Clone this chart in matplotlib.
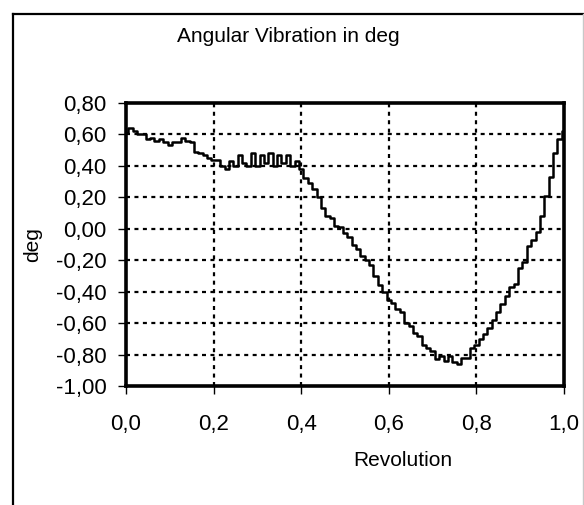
import matplotlib
matplotlib.use("Agg")
import matplotlib.pyplot as plt
from matplotlib.lines import Line2D

# ---- data ----
revolution = [i / 100 for i in range(101)]
angle_deg = [
    0.61, 0.64, 0.62, 0.60, 0.60, 0.57, 0.58, 0.56, 0.57, 0.55,
    0.53, 0.55, 0.55, 0.58, 0.56, 0.55, 0.49, 0.48, 0.47, 0.45,
    0.44, 0.44, 0.40, 0.38, 0.43, 0.40, 0.47, 0.42, 0.40, 0.48,
    0.40, 0.47, 0.42, 0.48, 0.40, 0.47, 0.42, 0.47, 0.40, 0.43,
    0.38, 0.32, 0.29, 0.25, 0.20, 0.13, 0.08, 0.07, 0.02, 0.01,
    -0.03, -0.05, -0.10, -0.13, -0.17, -0.20, -0.23, -0.30, -0.36, -0.40,
    -0.45, -0.47, -0.51, -0.53, -0.60, -0.62, -0.66, -0.68, -0.74, -0.76,
    -0.78, -0.83, -0.81, -0.84, -0.81, -0.85, -0.86, -0.82, -0.82, -0.76,
    -0.74, -0.70, -0.67, -0.63, -0.58, -0.53, -0.48, -0.43, -0.37, -0.35,
    -0.25, -0.21, -0.11, -0.07, -0.02, 0.08, 0.21, 0.33, 0.48, 0.57,
    0.62,
]
xticks = [0.0, 0.2, 0.4, 0.6, 0.8, 1.0]
xtick_labels = ["0,0", "0,2", "0,4", "0,6", "0,8", "1,0"]
yticks = [0.8, 0.6, 0.4, 0.2, 0.0, -0.2, -0.4, -0.6, -0.8, -1.0]
ytick_labels = ["0,80", "0,60", "0,40", "0,20", "0,00", "-0,20", "-0,40",
                "-0,60", "-0,80", "-1,00"]
title = "Angular Vibration in deg"
xlabel = "Revolution"
ylabel = "deg"

plt.rcParams["font.family"] = ["Liberation Sans", "DejaVu Sans"]
FS = 15
TFS = 16

W, H = 584, 505
fig = plt.figure(figsize=(W / 100, H / 100), dpi=100)
fig.patch.set_facecolor("white")

# outer chart frame (left + top black, right light grey)
fx0, fx1, fy1 = 12.5 / W, 582.5 / W, 1 - 13.5 / H
fig.add_artist(Line2D([fx0, fx0], [-0.1, fy1], transform=fig.transFigure,
                      color="black", linewidth=1.6))
fig.add_artist(Line2D([fx0, 1.1], [fy1, fy1], transform=fig.transFigure,
                      color="black", linewidth=1.6))
fig.add_artist(Line2D([fx1, fx1], [-0.1, fy1], transform=fig.transFigure,
                      color="#c8c8c8", linewidth=1.0))

ax = fig.add_axes([126 / W, 1 - 386 / H, (564 - 126) / W, (386 - 103) / H])
ax.plot(revolution, angle_deg, color="black", linewidth=1.8,
        drawstyle="steps-mid", zorder=3)

ax.set_xlim(0, 1)
ax.set_ylim(-1.0, 0.8)
ax.set_xticks(xticks)
ax.set_xticklabels(xtick_labels)
ax.set_yticks(yticks)
ax.set_yticklabels(ytick_labels)
ax.tick_params(axis="both", direction="out", length=6, width=1, color="black",
               labelsize=TFS)
ax.tick_params(axis="y", pad=8)
ax.tick_params(axis="x", pad=14)

for s in ax.spines.values():
    s.set_linewidth(2.6)
    s.set_color("black")

for v in xticks[1:-1]:
    ax.axvline(v, color="black", linewidth=1.6, linestyle=(0, (1.8, 2.0)), zorder=1)
for v in yticks[1:-1]:
    ax.axhline(v, color="black", linewidth=1.6, linestyle=(0, (1.8, 2.0)), zorder=1)

fig.text(288 / W, 1 - 36 / H, title, ha="center", va="center", fontsize=FS)
fig.text(403 / W, 1 - 460 / H, xlabel, ha="center", va="center", fontsize=FS)
fig.text(33 / W, 1 - 245 / H, ylabel, ha="center", va="center", fontsize=FS,
         rotation=90)

fig.savefig("out.png", dpi=100)
